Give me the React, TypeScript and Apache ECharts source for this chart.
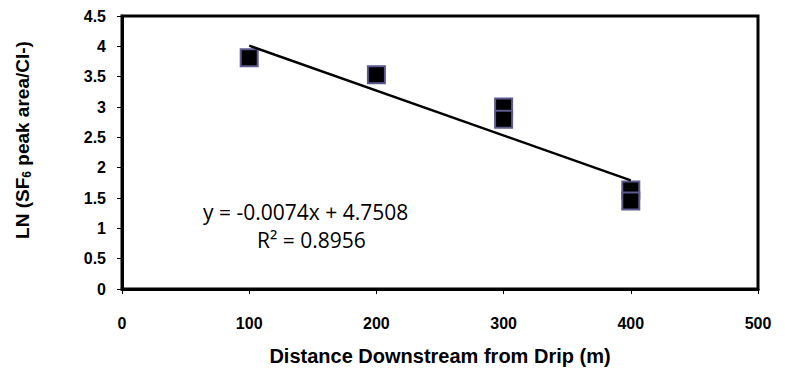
import React, { useEffect, useRef } from "react";
import * as echarts from "echarts";

const distances = [100, 200, 300, 300, 400, 400];
const lnValues = [3.81, 3.53, 3.0, 2.8, 1.63, 1.45];
const trendX = [100, 400];
const trendY = [4.0108, 1.7908];
const xTicks = [0, 100, 200, 300, 400, 500];
const yTicks = [0, 0.5, 1, 1.5, 2, 2.5, 3, 3.5, 4, 4.5];
const equationText = "y = -0.0074x + 4.7508";
const r2Text = "R² = 0.8956";
const xTitle = "Distance Downstream from Drip (m)";

export default function App() {
  const ref = useRef<HTMLDivElement>(null);
  useEffect(() => {
    if (!ref.current) return;
    const chart = echarts.init(ref.current, undefined, { renderer: "svg" });
    const font = "'Liberation Sans', Arial, sans-serif";
    chart.setOption({
      animation: false,
      backgroundColor: "#ffffff",
      grid: {
        left: 122, right: 27, top: 16, bottom: 81,
        outerBoundsMode: "none", containLabel: false,
        show: true, borderColor: "#000", borderWidth: 3, backgroundColor: "transparent",
      },
      xAxis: {
        type: "value",
        min: xTicks[0],
        max: xTicks[xTicks.length - 1],
        interval: 100,
        name: xTitle,
        nameLocation: "middle",
        nameGap: 57,
        nameTextStyle: { fontFamily: font, fontWeight: "bold", fontSize: 20, color: "#000" },
        axisLine: { show: true, lineStyle: { color: "#000", width: 3 } },
        axisTick: { show: true, length: 5, lineStyle: { color: "#000", width: 1 } },
        axisLabel: { margin: 26, fontFamily: font, fontWeight: "bold", fontSize: 16, color: "#000", showMaxLabel: true, showMinLabel: true },
        splitLine: { show: false },
      },
      yAxis: {
        type: "value",
        min: yTicks[0],
        max: yTicks[yTicks.length - 1],
        interval: 0.5,
        axisLine: { show: true, lineStyle: { color: "#000", width: 3 } },
        axisTick: { show: true, length: 5, lineStyle: { color: "#000", width: 1 } },
        axisLabel: { margin: 16, fontFamily: font, fontWeight: "bold", fontSize: 16, color: "#000" },
        splitLine: { show: false },
      },
      series: [
        {
          type: "line",
          data: trendX.map((x, i) => [x, trendY[i]]),
          symbol: "none",
          lineStyle: { color: "#000", width: 2.5 },
          z: 3,
        },
        {
          type: "scatter",
          data: distances.map((x, i) => [x, lnValues[i]]),
          symbol: "rect",
          symbolSize: 17,
          itemStyle: { color: "#000", borderColor: "#5c5a8e", borderWidth: 2, opacity: 1 },
          z: 2,
        },
      ],
      graphic: [
        {
          type: "text",
          x: 22,
          y: 140,
          rotation: Math.PI / 2,
          style: {
            text: "{a|LN (SF}{s|6}{a| peak area/Cl-)}",
            align: "center",
            verticalAlign: "middle",
            rich: {
              a: { fontFamily: font, fontWeight: "bold", fontSize: 19, fill: "#000", lineHeight: 24 },
              s: { fontFamily: font, fontWeight: "bold", fontSize: 12, fill: "#000", lineHeight: 24, padding: [10, 0, 0, 0] },
            },
          },
        },
        { type: "text", x: 203, y: 212, style: { text: equationText, fontFamily: "'Open Sans', sans-serif", fontSize: 21, fill: "#000", verticalAlign: "middle" } },
        { type: "text", x: 257, y: 240, style: { text: r2Text, fontFamily: "'Open Sans', sans-serif", fontSize: 21, fill: "#000", verticalAlign: "middle" } },
      ],
    });
    return () => chart.dispose();
  }, []);
  return <div ref={ref} style={{ width: 785, height: 370, position: "absolute", left: 0, top: 0 }} />;
}
